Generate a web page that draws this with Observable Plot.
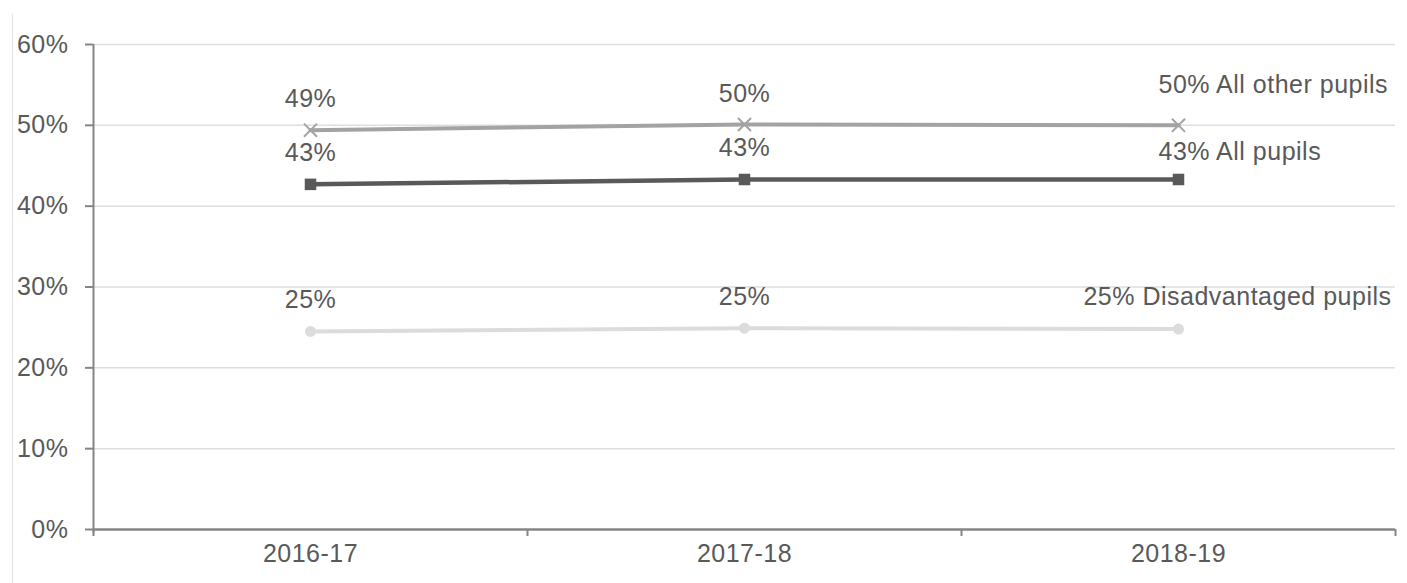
<!DOCTYPE html>
<html>
<head>
<meta charset="utf-8">
<script src="https://cdn.jsdelivr.net/npm/d3@7"></script>
<script src="https://cdn.jsdelivr.net/npm/@observablehq/plot@0.6"></script>
<style>
  html, body { margin: 0; padding: 0; background: #fff; }
  #chart { position: relative; width: 1407px; height: 583px; overflow: hidden; }
  #chart::before { content: ""; position: absolute; left: 12px; top: 14px; bottom: 0; border-left: 1px solid #e2e2e2; }
  #chart svg { display: block; }
  #chart svg text { letter-spacing: 0.5px; }
</style>
</head>
<body>
<div id="chart"></div>
<script>
// ---- data ----
const years = ["2016-17", "2017-18", "2018-19"];
const seriesNames = ["All other pupils", "All pupils", "Disadvantaged pupils"];
const otherPupils = [49.4, 50.1, 50.0];
const allPupils = [42.7, 43.3, 43.3];
const disadvantaged = [24.5, 24.9, 24.8];
const yTicks = [0, 10, 20, 30, 40, 50, 60];

// ---- build table ----
const seriesValues = [otherPupils, allPupils, disadvantaged];
const rows = [];
seriesNames.forEach((s, si) => years.forEach((y, yi) => rows.push({series: s, year: y, value: seriesValues[si][yi]})));
const bySeries = s => rows.filter(d => d.series === s);
const pct = d => `${Math.round(d.value)}%`;
const lastYear = years[years.length - 1];

const W = 1407, H = 583, mL = 93, mR = 12, mT = 44, mB = 54;
const halfBand = (W - mL - mR) / years.length / 2;
const font = "'Liberation Sans', Arial, sans-serif";
const textColor = "#595959";
const axisColor = "#858585";
const fs = 25;

const styles = {
  "All other pupils": {stroke: "#a3a3a3", symbol: "times", r: 6, dotFill: "none", dotStroke: "#a3a3a3", width: 4},
  "All pupils": {stroke: "#595959", symbol: "square", r: 6.5, dotFill: "#595959", dotStroke: "none", width: 4.5},
  "Disadvantaged pupils": {stroke: "#dcdcdc", symbol: "circle", r: 5.5, dotFill: "#dcdcdc", dotStroke: "none", width: 4}
};

const seriesMarks = [];
for (const s of ["Disadvantaged pupils", "All other pupils", "All pupils"]) {
  const st = styles[s];
  const data = bySeries(s);
  seriesMarks.push(Plot.line(data, {x: "year", y: "value", stroke: st.stroke, strokeWidth: st.width}));
  seriesMarks.push(Plot.dot(data, {x: "year", y: "value", symbol: () => st.symbol, r: st.r, fill: st.dotFill, stroke: st.dotStroke, strokeWidth: 2}));
}

const labelBase = {x: "year", y: "value", fill: textColor, fontSize: fs, fontFamily: font};

const plot = Plot.plot({
  width: W, height: H,
  marginLeft: mL, marginRight: mR, marginTop: mT, marginBottom: mB,
  style: {fontFamily: font, fontSize: `${fs}px`, color: textColor, background: "transparent", overflow: "visible"},
  x: {type: "band", domain: years, padding: 0, axis: null},
  y: {domain: [yTicks[0], yTicks[yTicks.length - 1]], axis: null},
  symbol: {type: "identity"},
  marks: [
    // gridlines
    Plot.ruleY(yTicks.slice(1), {stroke: "#dedede", strokeWidth: 1.5}),
    // y axis
    Plot.axisY({ticks: yTicks, tickFormat: d => `${d}%`, tickSize: 8, tickPadding: 17, stroke: axisColor, strokeWidth: 2, fill: textColor, fontSize: fs, label: null}),
    Plot.ruleX([years[0]], {y1: yTicks[0], y2: yTicks[yTicks.length - 1], dx: -halfBand, insetTop: 4, stroke: axisColor, strokeWidth: 2}),
    // x axis line + boundary ticks
    Plot.ruleY([0], {stroke: axisColor, strokeWidth: 2.5}),
    Plot.ruleX(years, {y1: 0, y2: 0, dx: -halfBand, insetTop: 7, stroke: axisColor, strokeWidth: 2}),
    Plot.ruleX([lastYear], {y1: 0, y2: 0, dx: halfBand, insetTop: 7, stroke: axisColor, strokeWidth: 2}),
    Plot.axisX({tickSize: 0, tickPadding: 15, fill: textColor, fontSize: fs, label: null}),
    // series
    ...seriesMarks,
    // value labels (non-last years)
    Plot.text(rows.filter(d => d.year !== lastYear), {...labelBase, text: pct, dy: -31, textAnchor: "middle"}),
    // end labels
    Plot.text(rows.filter(d => d.year === lastYear && d.series === "All other pupils"), {...labelBase, text: d => `${pct(d)} All other pupils`, dy: -40, dx: -20, textAnchor: "start"}),
    Plot.text(rows.filter(d => d.year === lastYear && d.series === "All pupils"), {...labelBase, text: d => `${pct(d)} All pupils`, dy: -27, dx: -20, textAnchor: "start"}),
    Plot.text(rows.filter(d => d.year === lastYear && d.series === "Disadvantaged pupils"), {...labelBase, text: d => `${pct(d)} Disadvantaged pupils`, dy: -32, dx: 213, textAnchor: "end"})
  ]
});
document.getElementById("chart").appendChild(plot);
</script>
</body>
</html>
